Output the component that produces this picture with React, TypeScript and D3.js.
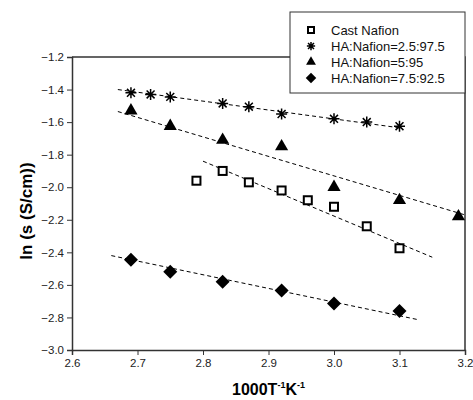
import React, { useEffect, useRef } from 'react';
import * as d3 from 'd3';

// series values: [1000/T, ln sigma]
const castNafion: [number, number][] = [
    [2.79, -1.96], [2.83, -1.90], [2.87, -1.97], [2.92, -2.02],
    [2.96, -2.08], [3.0, -2.12], [3.05, -2.24], [3.1, -2.375],
];
const ha25: [number, number][] = [
    [2.69, -1.42], [2.72, -1.43], [2.75, -1.445], [2.83, -1.485], [2.87, -1.505],
    [2.92, -1.55], [3.0, -1.58], [3.05, -1.60], [3.1, -1.625],
];
const ha5: [number, number][] = [
    [2.69, -1.53], [2.75, -1.625], [2.83, -1.71], [2.92, -1.75],
    [3.0, -2.0], [3.1, -2.08], [3.19, -2.18],
];
const ha75: [number, number][] = [
    [2.69, -2.445], [2.75, -2.52], [2.83, -2.58], [2.92, -2.635], [3.0, -2.715], [3.1, -2.76],
];

// dashed fit lines: start and end points
const fitCast: [number, number][] = [[2.80, -1.84], [3.15, -2.43]];
const fitHa25: [number, number][] = [[2.67, -1.40], [3.1, -1.635]];
const fitHa5: [number, number][] = [[2.67, -1.535], [3.2, -2.17]];
const fitHa75: [number, number][] = [[2.66, -2.42], [3.13, -2.815]];

const legendLabels = ['Cast Nafion', 'HA:Nafion=2.5:97.5', 'HA:Nafion=5:95', 'HA:Nafion=7.5:92.5'];
const markerKinds = ['square', 'star', 'triangle', 'diamond'];

const xTicks = [2.6, 2.7, 2.8, 2.9, 3.0, 3.1, 3.2];
const yTicks = [-3.0, -2.8, -2.6, -2.4, -2.2, -2.0, -1.8, -1.6, -1.4, -1.2];

const App = () => {
    const ref = useRef<SVGSVGElement>(null);

    const margin = { top: 57, right: 8, bottom: 50, left: 72 };
    const W = 473, H = 400;
    const width = W - margin.left - margin.right;
    const height = H - margin.top - margin.bottom;

    useEffect(() => {
        const svg = d3.select(ref.current);
        svg.selectAll('*').remove();
        const font = 'Arial, "Liberation Sans", sans-serif';

        const x = d3.scaleLinear().domain([2.6, 3.2]).range([0, width]);
        const y = d3.scaleLinear().domain([-3.0, -1.2]).range([height, 0]);

        const g = svg.append('g').attr('transform', `translate(${margin.left},${margin.top})`);

        // frame (top and right)
        g.append('path')
            .attr('d', `M0,0H${width}V${height}`)
            .attr('fill', 'none').attr('stroke', '#333').attr('stroke-width', 1.5);

        // axes with minor ticks
        const xAxis = g.append('g').attr('transform', `translate(0,${height})`);
        xAxis.call(d3.axisBottom(x).tickValues(d3.range(2.6, 3.2001, 0.05)).tickSize(3).tickFormat(() => ''));
        xAxis.call(d3.axisBottom(x).tickValues(xTicks).tickSize(5).tickPadding(4).tickFormat(d3.format('.1f')));
        const yAxis = g.append('g');
        yAxis.call(d3.axisLeft(y).tickValues(d3.range(-3.0, -1.1999, 0.1)).tickSize(3).tickFormat(() => ''));
        yAxis.call(d3.axisLeft(y).tickValues(yTicks).tickSize(5).tickPadding(3).tickFormat(d3.format('.1f')));
        svg.selectAll('.domain').attr('stroke', '#333').attr('stroke-width', 1.5);
        svg.selectAll('.tick line').attr('stroke', '#333');
        svg.selectAll('.tick text').attr('font-size', 11.5).attr('font-family', font).attr('fill', '#222');

        // fit lines
        const line = d3.line<[number, number]>().x(d => x(d[0])).y(d => y(d[1]));
        [fitCast, fitHa25, fitHa5, fitHa75].forEach(f => {
            g.append('path').attr('d', line(f))
                .attr('fill', 'none').attr('stroke', '#000').attr('stroke-width', 1)
                .attr('stroke-dasharray', '4,3');
        });

        const drawMarker = (sel: any, kind: string, cx: number, cy: number, k = 1) => {
            if (kind === 'square') {
                const s = 4 * k;
                sel.append('rect').attr('x', cx - s).attr('y', cy - s).attr('width', 2 * s).attr('height', 2 * s)
                    .attr('fill', '#fff').attr('stroke', '#000').attr('stroke-width', 2);
            } else if (kind === 'star') {
                const r = 5.5 * k, d = r * 0.72;
                sel.append('path')
                    .attr('d', `M${cx - r},${cy}H${cx + r}M${cx},${cy - r}V${cy + r}M${cx - d},${cy - d}L${cx + d},${cy + d}M${cx - d},${cy + d}L${cx + d},${cy - d}`)
                    .attr('stroke', '#000').attr('stroke-width', 1.5).attr('fill', 'none');
            } else if (kind === 'triangle') {
                sel.append('path')
                    .attr('d', d3.symbol(d3.symbolTriangle, 75 * k * k)())
                    .attr('transform', `translate(${cx},${cy})`).attr('fill', '#000');
            } else {
                const r = 7 * k;
                sel.append('path')
                    .attr('d', `M${cx},${cy - r}L${cx + r},${cy}L${cx},${cy + r}L${cx - r},${cy}Z`)
                    .attr('fill', '#000');
            }
        };

        [castNafion, ha25, ha5, ha75].forEach((s, i) => {
            s.forEach(p => drawMarker(g, markerKinds[i], x(p[0]), y(p[1])));
        });

        // axis titles
        svg.append('text')
            .attr('transform', `translate(32,211) rotate(-90)`)
            .attr('text-anchor', 'middle').attr('font-family', font)
            .attr('font-size', 17).attr('font-weight', 'bold').text('ln (s (S/cm))');
        const xt = svg.append('text')
            .attr('x', margin.left + width / 2).attr('y', 395)
            .attr('text-anchor', 'middle').attr('font-family', font)
            .attr('font-size', 16).attr('font-weight', 'bold');
        xt.append('tspan').text('1000T');
        xt.append('tspan').attr('font-size', 9).attr('dy', -7).text('-1');
        xt.append('tspan').attr('dy', 7).text('K');
        xt.append('tspan').attr('font-size', 9).attr('dy', -7).text('-1');

        // legend
        const lg = svg.append('g').attr('transform', 'translate(290,12)');
        lg.append('rect').attr('width', 175).attr('height', 81)
            .attr('fill', '#fff').attr('stroke', '#333').attr('stroke-width', 1);
        legendLabels.forEach((label, i) => {
            const cy = 18 + i * 16;
            drawMarker(lg, markerKinds[i], 21, cy, 0.75);
            lg.append('text').attr('x', 41).attr('y', cy + 4.5)
                .attr('font-family', font).attr('font-size', 13).attr('fill', '#111').text(label);
        });
    }, []);

    return <svg ref={ref} width={W} height={H} style={{ position: 'absolute', left: 0, top: 0 }} />;
};

export default App;
